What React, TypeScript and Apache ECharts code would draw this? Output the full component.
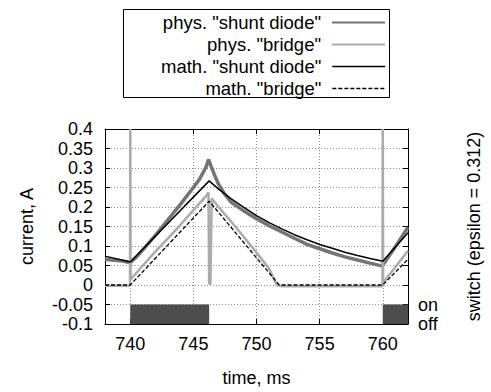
import React, { useEffect, useRef } from "react";
import * as echarts from "echarts";

// ---- data ----
const physShuntT = [738, 738.5, 739, 739.5, 740, 740.5, 741, 742, 743, 744, 745, 745.5, 746, 746.2, 746.4, 746.7, 747, 747.5, 748, 749, 750, 751, 752, 753, 754, 755, 756, 757, 758, 759, 759.9, 760.1, 761, 762];
const physShuntI = [0.066, 0.064, 0.063, 0.061, 0.057, 0.072, 0.09, 0.128, 0.168, 0.208, 0.25, 0.272, 0.302, 0.322, 0.305, 0.28, 0.258, 0.232, 0.212, 0.19, 0.17, 0.152, 0.136, 0.12, 0.104, 0.093, 0.082, 0.072, 0.064, 0.056, 0.049, 0.055, 0.098, 0.148];

const physBridgeT = [738, 739.98, 740, 740.03, 741, 742, 743, 744, 745, 746, 746.2, 746.25, 746.35, 746.45, 747, 748, 749, 750, 751, 751.6, 752, 756, 759.98, 760, 760.03, 761, 762];
const physBridgeI = [-0.002, -0.002, 0.4, 0.014, 0.05, 0.086, 0.12, 0.155, 0.192, 0.228, 0.237, 0.003, 0.003, 0.222, 0.2, 0.162, 0.123, 0.083, 0.042, 0.0, -0.003, -0.003, -0.003, 0.4, 0.006, 0.046, 0.088];

const mathShuntT = [738, 740, 746.25, 747, 748, 749, 750, 751, 752, 753, 754, 755, 756, 757, 758, 759, 760, 762];
const mathShuntI = [0.074, 0.059, 0.267, 0.246, 0.221, 0.199, 0.178, 0.16, 0.144, 0.129, 0.116, 0.104, 0.094, 0.084, 0.0755, 0.068, 0.061, 0.134];

const mathBridgeT = [738, 740, 746.25, 751.8, 760, 762];
const mathBridgeI = [0, 0, 0.215, 0, 0, 0.066];

const switchT = [738, 740, 740, 746.25, 746.25, 760, 760, 762];
const switchState = [0, 0, 1, 1, 0, 0, 1, 1];
const SWITCH_ON = -0.05;
const SWITCH_OFF = -0.1;

const xTicks = [740, 745, 750, 755, 760];
const seriesNames = ['phys. "shunt diode"', 'phys. "bridge"', 'math. "shunt diode"', 'math. "bridge"'];

const FONT = '"Liberation Sans", Arial, Helvetica, sans-serif';

function pairs(t: number[], v: number[]) {
  return t.map((x, i) => [x, v[i]]);
}

export default function App() {
  const ref = useRef<HTMLDivElement>(null);
  useEffect(() => {
    if (!ref.current) return;
    const chart = echarts.init(ref.current, undefined, { renderer: "svg" });
    const W = 491;
    const gridLeft = 105, gridTop = 129, gridW = 310, gridH = 198;
    const legendRowsTop = [13, 35, 57, 79];
    const legendLineWidth = [2, 2, 1.5, 1.3];
    const FS = 18;
    const legendText = { color: "#000", fontSize: 18.5, fontFamily: FONT, padding: [0, 6, 0, 0] };
    const axisLine = { show: true, onZero: false, lineStyle: { color: "#000", width: 1 } };
    const axisTick = { show: true, inside: true, length: 5, lineStyle: { color: "#000" } };
    const grid = { show: true, lineStyle: { color: "#8a8a8a", type: [1, 2], width: 1 } };
    const option: any = {
      animation: false,
      backgroundColor: "#fff",
      textStyle: { fontFamily: FONT },
      grid: { left: gridLeft, top: gridTop, width: gridW, height: gridH, show: false },
      legend: seriesNames.map((n, i) => ({
        data: [n],
        orient: "vertical",
        align: "right",
        right: W - 386,
        top: legendRowsTop[i],
        itemWidth: 53,
        itemHeight: 14,
        padding: 0,
        selectedMode: false,
        itemStyle: { opacity: 0 },
        lineStyle: { width: legendLineWidth[i] },
        textStyle: legendText,
      })),
      graphic: [
        {
          type: "rect",
          shape: { x: 123.5, y: 9.5, width: 266, height: 88 },
          style: { fill: "none", stroke: "#000", lineWidth: 1 },
          silent: true,
        },
      ],
      xAxis: [
        {
          type: "value",
          min: 738,
          max: 762,
          position: "bottom",
          name: "time, ms",
          nameLocation: "middle",
          nameGap: 45,
          nameTextStyle: { color: "#000", fontSize: FS, fontFamily: FONT },
          axisLine,
          axisTick,
          axisLabel: {
            color: "#000",
            fontSize: FS,
            fontFamily: FONT,
            margin: 11,
            formatter: (v: number) => (xTicks.includes(v) ? String(v) : ""),
          },
          splitLine: grid,
        },
        {
          type: "value",
          min: 738,
          max: 762,
          position: "top",
          axisLine,
          axisTick,
          axisLabel: { show: false },
          splitLine: { show: false },
        },
      ],
      yAxis: [
        {
          type: "value",
          min: -0.1,
          max: 0.4,
          interval: 0.05,
          position: "left",
          name: "current, A",
          nameLocation: "middle",
          nameRotate: 90,
          nameGap: 69,
          nameTextStyle: { color: "#000", fontSize: FS, fontFamily: FONT },
          axisLine,
          axisTick,
          axisLabel: { color: "#000", fontSize: FS, fontFamily: FONT, margin: 12 },
          splitLine: grid,
        },
        {
          type: "value",
          min: -0.1,
          max: 0.4,
          interval: 0.05,
          position: "right",
          name: "switch (epsilon = 0.312)",
          nameLocation: "middle",
          nameRotate: 90,
          nameGap: 57,
          nameTextStyle: { color: "#000", fontSize: FS, fontFamily: FONT },
          axisLine,
          axisTick,
          axisLabel: {
            color: "#000",
            fontSize: FS,
            fontFamily: FONT,
            margin: 10,
            formatter: (v: number) =>
              Math.abs(v - SWITCH_ON) < 1e-6 ? "on" : Math.abs(v - SWITCH_OFF) < 1e-6 ? "off" : "",
          },
          splitLine: { show: false },
        },
      ],
      series: [
        {
          name: "switch",
          type: "line",
          data: pairs(switchT, switchState.map((s) => (s ? SWITCH_ON : SWITCH_OFF))),
          symbol: "none",
          lineStyle: { width: 0, color: "#4d4d4d" },
          areaStyle: { color: "#4d4d4d", opacity: 1, origin: "start" },
          itemStyle: { color: "#4d4d4d" },
          z: 1,
        },
        {
          name: seriesNames[0],
          type: "line",
          data: pairs(physShuntT, physShuntI),
          symbol: "none",
          lineStyle: { width: 3.5, color: "#747474" },
          itemStyle: { color: "#747474" },
          z: 2,
        },
        {
          name: seriesNames[1],
          type: "line",
          data: pairs(physBridgeT, physBridgeI),
          symbol: "none",
          lineStyle: { width: 2.5, color: "#ababab" },
          itemStyle: { color: "#ababab" },
          z: 3,
        },
        {
          name: seriesNames[2],
          type: "line",
          data: pairs(mathShuntT, mathShuntI),
          symbol: "none",
          lineStyle: { width: 1.5, color: "#000" },
          itemStyle: { color: "#000" },
          z: 4,
        },
        {
          name: seriesNames[3],
          type: "line",
          data: pairs(mathBridgeT, mathBridgeI),
          symbol: "none",
          lineStyle: { width: 1.3, color: "#000", type: [4, 2] },
          itemStyle: { color: "#000" },
          z: 5,
        },
      ],
    };
    chart.setOption(option);
    return () => chart.dispose();
  }, []);
  return (
    <div
      ref={ref}
      style={{ position: "fixed", left: 0, top: 0, width: 491, height: 392, background: "#fff" }}
    />
  );
}
